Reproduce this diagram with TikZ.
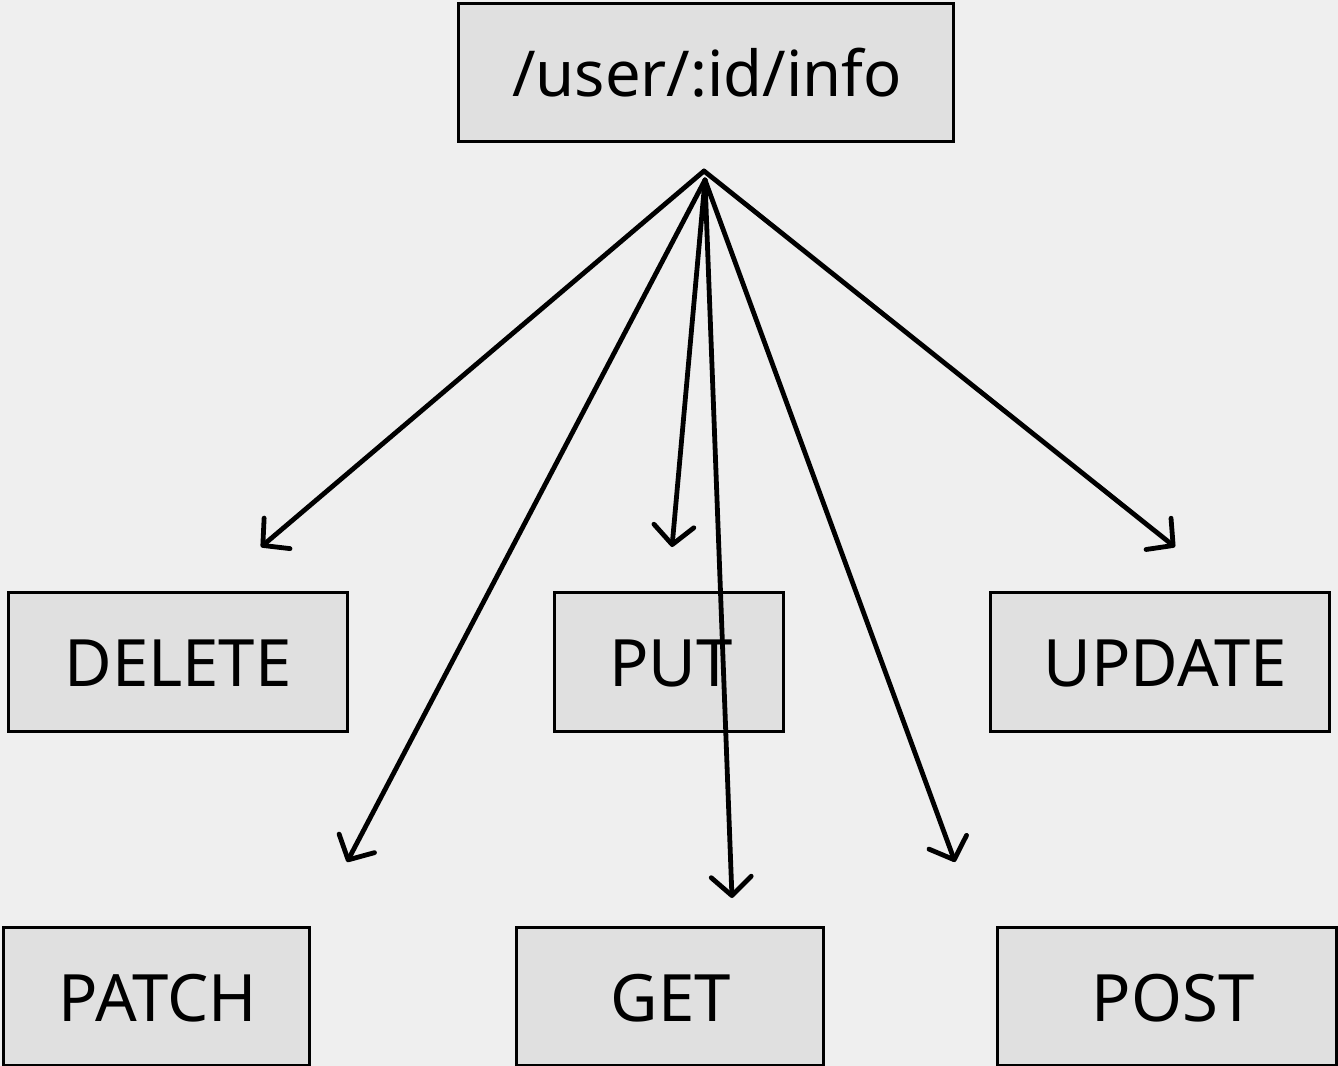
\documentclass[tikz,border=0pt]{standalone}
\usepackage{fontspec}
\setmainfont{Noto Sans}
\usetikzlibrary{arrows.meta}
\definecolor{bg}{HTML}{EFEFEF}
\definecolor{boxfill}{HTML}{E0E0E0}
\tikzset{
  box/.style={draw=black, fill=boxfill, line width=2.6pt, inner sep=0pt, anchor=north west},
  lbl/.style={font=\fontsize{49pt}{56pt}\selectfont, inner sep=0pt},
  conn/.style={line width=3.6pt, line cap=round, line join=round, -{Straight Barb[length=14pt,width=30pt,round]}}
}
\begin{document}
\begin{tikzpicture}[x=0.75pt,y=-0.75pt]
\fill[bg] (0,0) rectangle (1338,1066);
\useasboundingbox (0,0) rectangle (1338,1066);
% boxes
\node[box, minimum width=495*0.75pt, minimum height=138*0.75pt] (top) at (457,2) {};
\node[box, minimum width=339*0.75pt, minimum height=139*0.75pt] (delete) at (7,591) {};
\node[box, minimum width=229*0.75pt, minimum height=139*0.75pt] (put) at (553,591) {};
\node[box, minimum width=339*0.75pt, minimum height=139*0.75pt] (update) at (989,591) {};
\node[box, minimum width=306*0.75pt, minimum height=138*0.75pt] (patch) at (2,926) {};
\node[box, minimum width=307*0.75pt, minimum height=138*0.75pt] (get) at (515,926) {};
\node[box, minimum width=339*0.75pt, minimum height=138*0.75pt] (post) at (996,926) {};
% labels
\node[lbl, font=\fontsize{47.5pt}{56pt}\selectfont] (ttop) at (707,73) {/user/:id/info};
\node[lbl] (tdelete) at (178,663) {DELETE};
\node[lbl] (tput) at (671,663) {PUT};
\node[lbl] (tupdate) at (1165,663) {UPDATE};
\node[lbl] (tpatch) at (158,998) {PATCH};
\node[lbl] (tget) at (671,998) {GET};
\node[lbl] (tpost) at (1173,998) {POST};
% connector points
\coordinate (srcA) at (704,171);
\coordinate (srcB) at (705,180);
\coordinate (tipdelete) at (261,547);
\coordinate (tipput) at (672,547);
\coordinate (tipupdate) at (1175,547);
\coordinate (tippatch) at (347,862);
\coordinate (tipget) at (732,898);
\coordinate (tippost) at (955,862);
\draw[conn] (srcA) -- (tipdelete);
\draw[conn] (srcA) -- (tipupdate);
\draw[conn] (srcB) -- (tippatch);
\draw[conn] (srcB) -- (tipput);
\draw[conn] (srcB) -- (tipget);
\draw[conn] (srcB) -- (tippost);
\end{tikzpicture}
\end{document}
